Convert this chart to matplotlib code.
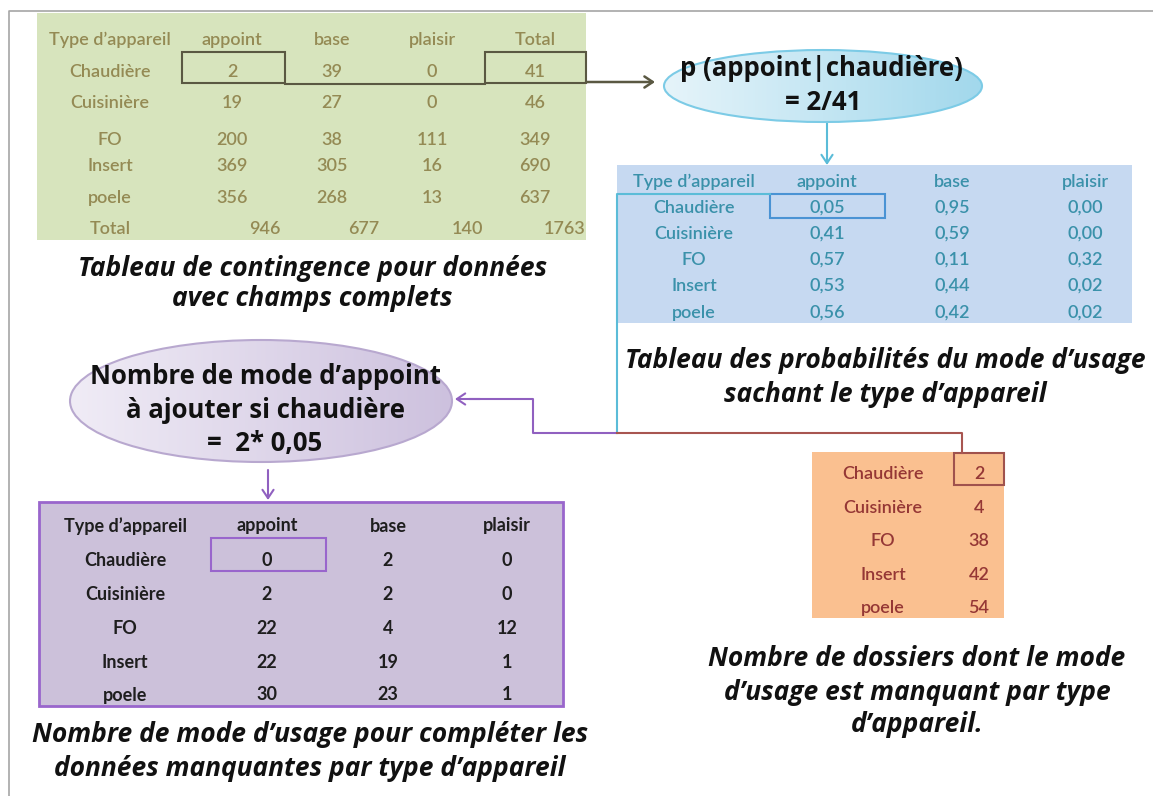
import numpy as np
import matplotlib
matplotlib.use("Agg")
import matplotlib.pyplot as plt
from matplotlib.patches import Ellipse, Rectangle, FancyArrowPatch
from matplotlib.colors import LinearSegmentedColormap

plt.rcParams['font.family'] = ['Lato', 'DejaVu Sans']

# ---------------- data ----------------
types = ['Chaudière', 'Cuisinière', 'FO', 'Insert', 'poele']
modes = ['appoint', 'base', 'plaisir']
cont_appoint = [2, 19, 200, 369, 356]
cont_base = [39, 27, 38, 305, 268]
cont_plaisir = [0, 0, 111, 16, 13]
cont_total = [41, 46, 349, 690, 637]
col_totals = [946, 677, 140, 1763]
prob_appoint = [0.05, 0.41, 0.57, 0.53, 0.56]
prob_base = [0.95, 0.59, 0.11, 0.44, 0.42]
prob_plaisir = [0.00, 0.00, 0.32, 0.02, 0.02]
missing = [2, 4, 38, 42, 54]
comp_appoint = [0, 2, 22, 22, 30]
comp_base = [2, 2, 4, 19, 23]
comp_plaisir = [0, 0, 12, 1, 1]

fig = plt.figure(figsize=(11.53, 7.96), dpi=100)
ax = fig.add_axes([0, 0, 1, 1])
ax.set_xlim(0, 1153)
ax.set_ylim(796, 0)
ax.axis('off')

def fmt(v):
    return f"{v:.2f}".replace('.', ',')

TS = 13
W = 'semibold'
CAP = dict(fontsize=19, weight='bold', style='italic', color='#111111',
           family=['Open Sans', 'DejaVu Sans'], ha='center', va='center')
ELL = dict(fontsize=18.5, weight='bold', color='#111111', family=['Open Sans', 'DejaVu Sans'],
           ha='center', va='center', zorder=4)

# frame
ax.plot([9, 9, 1153], [796, 11, 11], color='#a6a6a6', lw=1.2)

# ---------------- green contingency table ----------------
ax.add_patch(Rectangle((37, 13), 549, 227, facecolor='#d7e4bd', edgecolor='none'))
gc = '#948a54'
gx = [110, 232, 332, 432, 535]
gy_head = 40
gy = [72, 103, 140, 166, 198]
for x, h in zip(gx, ['Type d’appareil'] + modes + ['Total']):
    ax.text(x, gy_head, h, ha='center', va='center', color=gc, fontsize=TS, weight=W)
cols = [cont_appoint, cont_base, cont_plaisir, cont_total]
for i, t in enumerate(types):
    ax.text(gx[0], gy[i], t, ha='center', va='center', color=gc, fontsize=TS, weight=W)
    for j, c in enumerate(cols):
        ax.text(gx[j + 1], gy[i], str(c[i]), ha='center', va='center', color=gc, fontsize=TS, weight=W)
ax.text(gx[0], 229, 'Total', ha='center', va='center', color=gc, fontsize=TS, weight=W)
for x, v in zip([281, 379, 483, 585], col_totals):
    ax.text(x, 229, str(v), ha='right', va='center', color=gc, fontsize=TS, weight=W)
lc = '#5a5842'
ax.add_patch(Rectangle((182, 52), 103, 31, facecolor='none', edgecolor=lc, lw=1.5))
ax.add_patch(Rectangle((485, 52), 101, 31, facecolor='none', edgecolor=lc, lw=1.5))
ax.plot([285, 485], [84, 84], color=lc, lw=1.5)
ax.add_patch(FancyArrowPatch((586, 82), (655, 82), arrowstyle='->,head_length=6,head_width=4',
                             color=lc, lw=1.8, shrinkA=0, shrinkB=0))

ax.text(313, 268, 'Tableau de contingence pour données', **CAP)
ax.text(312, 299, 'avec champs complets', **CAP)

# ---------------- gradient ellipses ----------------
def grad_ellipse(cx, cy, w, h, c0, c1, edge):
    cmap = LinearSegmentedColormap.from_list('g', [c0, c1])
    grad = np.linspace(0, 1, 256).reshape(1, -1)
    e = Ellipse((cx, cy), w, h, facecolor='none', edgecolor=edge, lw=1.5, zorder=3)
    ax.add_patch(e)
    im = ax.imshow(grad, cmap=cmap, extent=[cx - w / 2, cx + w / 2, cy + h / 2, cy - h / 2],
                   aspect='auto', zorder=2, interpolation='bilinear')
    im.set_clip_path(e)

grad_ellipse(823, 86, 318, 72, '#e6f4fa', '#a2d8ec', '#7ccbe6')
ax.text(821, 69, 'p (appoint|chaudière)', **ELL)
ax.text(823, 102, '= 2/41', **ELL)
cy_c = '#5bbcd8'
ax.add_patch(FancyArrowPatch((827, 122), (827, 165), arrowstyle='->,head_length=6,head_width=4',
                             color=cy_c, lw=1.5, shrinkA=0, shrinkB=0))

# ---------------- blue probability table ----------------
ax.add_patch(Rectangle((617, 165), 515, 158, facecolor='#c6d9f1', edgecolor='none'))
bc = '#3a91aa'
bx = [694, 827, 952, 1085]
by_head = 182
by = [208, 234, 260, 286, 313]
for x, h in zip(bx, ['Type d’appareil'] + modes):
    ax.text(x, by_head, h, ha='center', va='center', color=bc, fontsize=TS, weight=W)
pcols = [prob_appoint, prob_base, prob_plaisir]
for i, t in enumerate(types):
    ax.text(bx[0], by[i], t, ha='center', va='center', color=bc, fontsize=TS, weight=W)
    for j, c in enumerate(pcols):
        ax.text(bx[j + 1], by[i], fmt(c[i]), ha='center', va='center', color=bc, fontsize=TS, weight=W)
ax.add_patch(Rectangle((770, 194), 115, 24, facecolor='none', edgecolor='#4a93d4', lw=1.5))
ax.plot([770, 617, 617], [194, 194, 433], color=cy_c, lw=1.5)

ax.text(885, 360, 'Tableau des probabilités du mode d’usage', **CAP)
ax.text(885, 394, 'sachant le type d’appareil', **CAP)

# ---------------- connectors ----------------
pc = '#9060c0'
rc = '#a85550'
ax.plot([617, 533, 533, 470], [433, 433, 399, 399], color=pc, lw=1.5)
ax.add_patch(FancyArrowPatch((480, 399), (455, 399), arrowstyle='->,head_length=6,head_width=4',
                             color=pc, lw=1.5, shrinkA=0, shrinkB=0))
ax.plot([617, 962, 962], [433, 433, 453], color=rc, lw=1.5)

# ---------------- purple ellipse ----------------
grad_ellipse(261, 401, 382, 122, '#f0ecf6', '#cdc1de', '#b8a8cf')
for yy, s in zip([377, 410, 443], ['Nombre de mode d’appoint', 'à ajouter si chaudière', '=  2* 0,05']):
    ax.text(265, yy, s, **ELL)
ax.add_patch(FancyArrowPatch((268, 470), (268, 500), arrowstyle='->,head_length=6,head_width=4',
                             color=pc, lw=1.5, shrinkA=0, shrinkB=0))

# ---------------- purple completion table ----------------
ax.add_patch(Rectangle((39, 502), 524, 204, facecolor='#ccc1da', edgecolor='#9966cc', lw=2))
kc = '#1e1e1e'
kx = [125, 267, 388, 507]
ky_head = 526
ky = [560, 594, 628, 662, 695]
for x, h in zip(kx, ['Type d’appareil'] + modes):
    ax.text(x, ky_head, h, ha='center', va='center', color=kc, fontsize=TS, weight='bold')
ccols = [comp_appoint, comp_base, comp_plaisir]
for i, t in enumerate(types):
    ax.text(kx[0], ky[i], t, ha='center', va='center', color=kc, fontsize=TS, weight='bold')
    for j, c in enumerate(ccols):
        ax.text(kx[j + 1], ky[i], str(c[i]), ha='center', va='center', color=kc, fontsize=TS, weight='bold')
ax.add_patch(Rectangle((211, 538), 115, 33, facecolor='none', edgecolor='#9966cc', lw=1.5))

ax.text(310, 735, 'Nombre de mode d’usage pour compléter les', **CAP)
ax.text(310, 769, 'données manquantes par type d’appareil', **CAP)

# ---------------- orange missing table ----------------
ax.add_patch(Rectangle((812, 452), 192, 166, facecolor='#fac090', edgecolor='none'))
oc = '#953735'
oy = [474, 508, 541, 575, 608]
for i, t in enumerate(types):
    ax.text(883, oy[i], t, ha='center', va='center', color=oc, fontsize=TS, weight=W)
    ax.text(979, oy[i], str(missing[i]), ha='center', va='center', color=oc, fontsize=TS, weight=W)
ax.add_patch(Rectangle((954, 453), 50, 32, facecolor='none', edgecolor='#a0524d', lw=1.5))

for yy, s in zip([658, 692, 725], ['Nombre de dossiers dont le mode', 'd’usage est manquant par type', 'd’appareil.']):
    ax.text(917, yy, s, **CAP)

ax.set_xlim(0, 1153)
ax.set_ylim(796, 0)
fig.savefig('out.png', dpi=100)
